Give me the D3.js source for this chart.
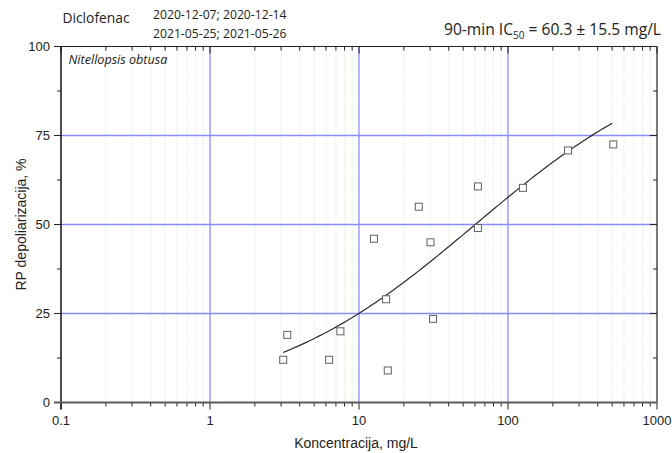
<!DOCTYPE html>
<html>
<head>
<meta charset="utf-8">
<script src="https://cdn.jsdelivr.net/npm/d3@7"></script>
<style>
  body { margin: 0; background: #fff; }
  svg { display: block; }
</style>
</head>
<body>
<svg id="chart"></svg>
<script>
// measured points (concentration mg/L, RP depolarisation %)
const conc = [3.1, 3.3, 6.3, 7.5, 12.6, 15.2, 15.6, 25.2, 30.2, 31.4, 62.8, 62.8, 126, 253, 509];
const resp = [12, 19, 12, 20, 46, 29, 9, 55, 45, 23.5, 60.7, 49, 60.3, 70.8, 72.5];

// fit parameters
const ic50 = 60.3;
const hill = 0.61;
const fitRange = [3.1, 500];

const xTicks = [0.1, 1, 10, 100, 1000];
const yTicks = [0, 25, 50, 75, 100];

const width = 672, height = 453;
const m = { left: 61, right: 15, top: 46.5, bottom: 50.5 };

const svg = d3.select("#chart")
    .attr("width", width)
    .attr("height", height);

const x = d3.scaleLog().domain([0.1, 1000]).range([m.left, width - m.right]);
const y = d3.scaleLinear().domain([0, 100]).range([height - m.bottom, m.top]);

const x0 = x.range()[0], x1 = x.range()[1];
const y0 = y.range()[0], y1 = y.range()[1];

// minor ticks 2..9 per decade
const minorX = [];
for (let e = -1; e < 3; e++) {
    for (let k = 2; k <= 9; k++) minorX.push(k * Math.pow(10, e));
}
const minorY = d3.range(12.5, 100, 25);

// grid
const grid = svg.append("g");
grid.selectAll(".gminor")
    .data(minorX)
    .join("line")
    .attr("x1", d => x(d)).attr("x2", d => x(d))
    .attr("y1", y1).attr("y2", y0)
    .attr("stroke", "#dcf6dc")
    .attr("stroke-width", 1)
    .attr("stroke-dasharray", "2,1");

grid.selectAll(".gmajx")
    .data(xTicks.slice(1, -1))
    .join("line")
    .attr("x1", d => x(d)).attr("x2", d => x(d))
    .attr("y1", y1).attr("y2", y0)
    .attr("stroke", "#8a8aff")
    .attr("stroke-width", 1.3);

grid.selectAll(".gmajy")
    .data(yTicks.slice(1, -1))
    .join("line")
    .attr("x1", x0).attr("x2", x1)
    .attr("y1", d => y(d)).attr("y2", d => y(d))
    .attr("stroke", "#8a8aff")
    .attr("stroke-width", 1.3);

// fit curve
const curveX = d3.range(0, 101).map(i =>
    Math.pow(10, Math.log10(fitRange[0]) + i / 100 * (Math.log10(fitRange[1]) - Math.log10(fitRange[0]))));
const line = d3.line()
    .x(d => x(d))
    .y(d => y(100 / (1 + Math.pow(ic50 / d, hill))))
    .curve(d3.curveBasis);
svg.append("path")
    .datum(curveX)
    .attr("d", line)
    .attr("fill", "none")
    .attr("stroke", "#2b2b2b")
    .attr("stroke-width", 1.2);

// points
svg.append("g")
    .selectAll("rect")
    .data(conc.map((c, i) => [c, resp[i]]))
    .join("rect")
    .attr("x", d => x(d[0]) - 3.5)
    .attr("y", d => y(d[1]) - 3.5)
    .attr("width", 7)
    .attr("height", 7)
    .attr("fill", "#fff")
    .attr("stroke", "#606060")
    .attr("stroke-width", 1);

// ticks
const tk = svg.append("g").attr("stroke", "#222").attr("stroke-width", 1);
// bottom (outward) and top (inward)
xTicks.forEach(d => {
    tk.append("line").attr("x1", x(d)).attr("x2", x(d)).attr("y1", y0).attr("y2", y0 + 7);
    tk.append("line").attr("x1", x(d)).attr("x2", x(d)).attr("y1", y1).attr("y2", y1 + 7);
});
minorX.forEach(d => {
    tk.append("line").attr("x1", x(d)).attr("x2", x(d)).attr("y1", y0).attr("y2", y0 + 4);
    tk.append("line").attr("x1", x(d)).attr("x2", x(d)).attr("y1", y1).attr("y2", y1 + 4);
});
// left (outward) and right (inward)
yTicks.forEach(d => {
    tk.append("line").attr("x1", x0 - 7).attr("x2", x0).attr("y1", y(d)).attr("y2", y(d));
    tk.append("line").attr("x1", x1 - 7).attr("x2", x1).attr("y1", y(d)).attr("y2", y(d));
});
minorY.forEach(d => {
    tk.append("line").attr("x1", x0 - 4).attr("x2", x0).attr("y1", y(d)).attr("y2", y(d));
    tk.append("line").attr("x1", x1 - 4).attr("x2", x1).attr("y1", y(d)).attr("y2", y(d));
});

// frame
svg.append("line").attr("x1", x0).attr("x2", x1).attr("y1", y1).attr("y2", y1)
    .attr("stroke", "#222").attr("stroke-width", 1.2);
svg.append("line").attr("x1", x1).attr("x2", x1).attr("y1", y1).attr("y2", y0)
    .attr("stroke", "#222").attr("stroke-width", 1.2);
svg.append("line").attr("x1", x0).attr("x2", x0).attr("y1", y1).attr("y2", y0 + 7)
    .attr("stroke", "#111").attr("stroke-width", 1.5);
svg.append("line").attr("x1", x0 - 7).attr("x2", x1).attr("y1", y0).attr("y2", y0)
    .attr("stroke", "#5a5a5a").attr("stroke-width", 2);

// tick labels
const tickFont = "'Liberation Sans', Arial, sans-serif";
svg.append("g")
    .selectAll("text")
    .data(xTicks)
    .join("text")
    .attr("x", d => x(d))
    .attr("y", y0 + 22)
    .attr("text-anchor", "middle")
    .attr("font-family", tickFont)
    .attr("font-size", 13)
    .attr("fill", "#222")
    .text(d => d);

svg.append("g")
    .selectAll("text")
    .data(yTicks)
    .join("text")
    .attr("x", x0 - 11)
    .attr("y", d => y(d) + 4.5)
    .attr("text-anchor", "end")
    .attr("font-family", tickFont)
    .attr("font-size", 13)
    .attr("fill", "#222")
    .text(d => d);

// axis titles
svg.append("text")
    .attr("x", (x0 + x1) / 2 - 3)
    .attr("y", 448)
    .attr("text-anchor", "middle")
    .attr("font-family", tickFont)
    .attr("font-size", 14)
    .attr("fill", "#222")
    .text("Koncentracija, mg/L");

svg.append("text")
    .attr("transform", `translate(26,${(y0 + y1) / 2}) rotate(-90)`)
    .attr("text-anchor", "middle")
    .attr("font-family", tickFont)
    .attr("font-size", 14)
    .attr("fill", "#222")
    .text("RP depoliarizacija, %");

// annotations
const noteFont = "'Open Sans', 'Noto Sans', sans-serif";
svg.append("text")
    .attr("x", 62.5).attr("y", 22.5)
    .attr("font-family", noteFont).attr("font-size", 13.8).attr("fill", "#222")
    .text("Diclofenac");
svg.append("text")
    .attr("x", 153).attr("y", 18.5)
    .attr("font-family", noteFont).attr("font-size", 12.2).attr("fill", "#222")
    .text("2020-12-07; 2020-12-14");
svg.append("text")
    .attr("x", 153).attr("y", 37.5)
    .attr("font-family", noteFont).attr("font-size", 12.2).attr("fill", "#222")
    .text("2021-05-25; 2021-05-26");
svg.append("text")
    .attr("x", 68.5).attr("y", 64)
    .attr("font-family", noteFont).attr("font-size", 12.6).attr("font-style", "italic").attr("fill", "#222")
    .text("Nitellopsis obtusa");

const ic = svg.append("text")
    .attr("x", 661).attr("y", 35)
    .attr("text-anchor", "end")
    .attr("font-family", noteFont).attr("font-size", 15.6).attr("fill", "#222");
ic.append("tspan").text("90-min IC");
ic.append("tspan").attr("font-size", 10).attr("dy", 4).text("50");
ic.append("tspan").attr("dy", -4).text(` = ${ic50} ± 15.5 mg/L`);
</script>
</body>
</html>
